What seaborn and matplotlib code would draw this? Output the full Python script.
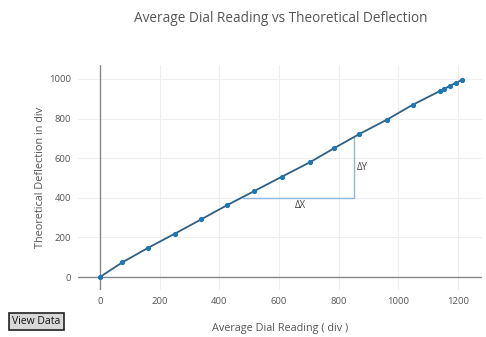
import matplotlib
matplotlib.use("Agg")
import matplotlib.pyplot as plt
import seaborn as sns
import pandas as pd

# Measured data
dial_reading = [0, 75, 162, 251, 339, 425, 517, 610, 703, 784, 869, 962, 1047,
                1139, 1153, 1172, 1193, 1213]
deflection = [0, 74, 148, 219, 291, 362, 434, 507, 579, 650, 722, 795, 869,
              939, 949, 965, 981, 995]

# Slope triangle corners
tri_x = [479, 851, 851]
tri_y = [400, 400, 708]

x_ticks = [0, 200, 400, 600, 800, 1000, 1200]
y_ticks = [0, 200, 400, 600, 800, 1000]

sns.set_style("white")
plt.rcParams["font.family"] = ["Open Sans", "DejaVu Sans"]

df = pd.DataFrame({"x": dial_reading, "y": deflection})

fig = plt.figure(figsize=(4.86, 3.37), dpi=100)
ax = fig.add_axes([0.160, 0.139, 0.832, 0.668])

ax.set_xlim(-74, 1280)
ax.set_ylim(-66, 1070)

for t in x_ticks[1:]:
    ax.axvline(t, color="#eeeeee", lw=0.8, zorder=0)
for t in y_ticks[1:]:
    ax.axhline(t, color="#eeeeee", lw=0.8, zorder=0)
ax.axhline(0, color="#888888", lw=1.0, zorder=1)
ax.axvline(0, color="#888888", lw=1.0, zorder=1)

ax.plot(tri_x, tri_y, color="#8fb8de", lw=1.0, zorder=2)
ax.text(670, 362, "ΔX", fontsize=7, color="#444444", ha="center", va="center")
ax.text(862, 555, "ΔY", fontsize=7, color="#444444", ha="left", va="center")

sns.lineplot(data=df, x="x", y="y", ax=ax, color="#2f5f85", lw=1.3,
             marker="o", markersize=3.0, markerfacecolor="#1f77b4",
             markeredgecolor="#1f77b4", zorder=3)

ax.set_xticks(x_ticks)
ax.set_yticks(y_ticks)
ax.tick_params(axis="both", length=0, labelsize=6.8, labelcolor="#555555", pad=5)
for s in ax.spines.values():
    s.set_visible(False)

ax.set_xlabel("Average Dial Reading ( div )", fontsize=7.8, color="#555555", labelpad=12)
ax.set_ylabel("Theoretical Deflection in div", fontsize=7.8, color="#555555", labelpad=2)

fig.text(0.578, 0.946, "Average Dial Reading vs Theoretical Deflection",
         fontsize=9.8, color="#555555", ha="center", va="center")

fig.text(0.075, 0.045, "View Data", fontsize=7.5, color="#111111", ha="center", va="center",
         bbox=dict(boxstyle="square,pad=0.3", facecolor="#d8d8d8", edgecolor="#222222", lw=1.2))

fig.savefig("out.png", dpi=100)
